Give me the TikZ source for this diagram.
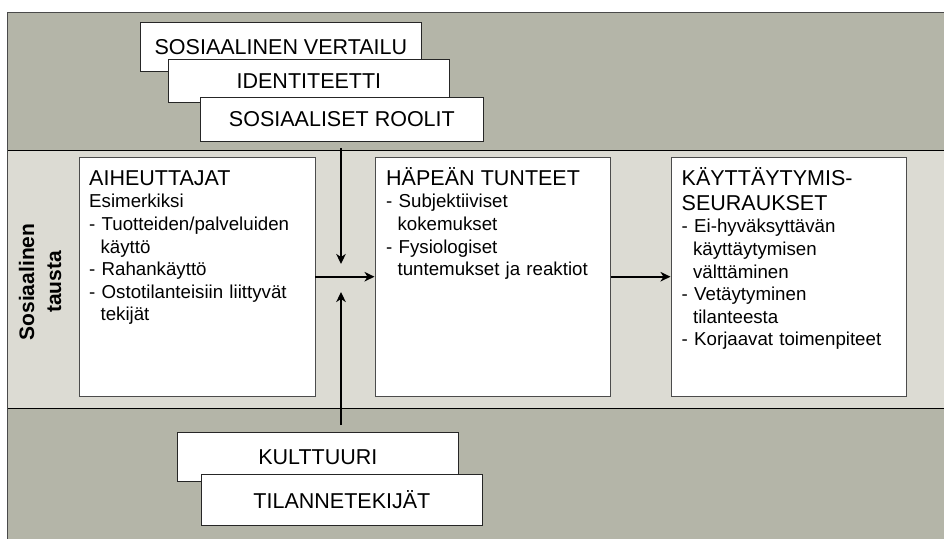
\documentclass[tikz,border=0pt]{standalone}
\usepackage{fontspec}
\setmainfont{Liberation Sans}
\usetikzlibrary{arrows.meta}

\definecolor{bandDark}{HTML}{B4B5A8}
\definecolor{bandLight}{HTML}{DCDBD3}
\definecolor{edgeGray}{HTML}{4A4A4A}

% continuation lines of a "- " item line up with the item text
\newcommand{\contline}{\hspace*{11.4pt}}
% strut that clears the umlauts of the panel headings
\newcommand{\headstrut}{\rule{0pt}{21pt}}
\newcommand{\headfont}{\fontsize{21.5}{25}\selectfont}

\tikzset{
  tagbox/.style={draw=black!85, fill=white, line width=0.8pt, inner sep=0pt,
    minimum width=281pt, anchor=north west, font=\headfont},
  panel/.style={draw=black!70, fill=white, line width=0.9pt, inner sep=0pt,
    minimum width=235.5pt, minimum height=238.5pt, anchor=north west},
  paneltext/.style={inner sep=0pt, anchor=north west, text width=222pt,
    align=left, font=\fontsize{18.7}{22.6}\selectfont},
  sidelabel/.style={rotate=90, align=center, inner sep=0pt,
    font=\bfseries\fontsize{21}{27}\selectfont},
  flow/.style={line width=2.3pt, -{Stealth[length=10pt,width=9.5pt,inset=3pt]}}
}

\begin{document}
\begin{tikzpicture}[x=1pt, y=-1pt]
\useasboundingbox (0,0) rectangle (944,538);
\clip (0,0) rectangle (944,538);

% background bands
\fill[bandDark] (7,12) rectangle (960,560);
\fill[bandLight] (7,150) rectangle (960,408);
\draw[line width=1pt] (7,150) -- (960,150);
\draw[line width=1pt] (7,408) -- (960,408);
\draw[edgeGray, line width=1pt] (960,12) -- (7,12) -- (7,560);

% social background label
\node[sidelabel] (context) at (40,282) {Sosiaalinen\\tausta};

% upper influences
\node[tagbox, minimum height=49pt] (comparison) at (140,22) {SOSIAALINEN VERTAILU};
\node[tagbox, minimum height=43pt] (identity) at (168,59) {IDENTITEETTI};
\node[tagbox, minimum width=283pt, minimum height=44pt] (roles) at (200,97) {SOSIAALISET ROOLIT};

% lower influences
\node[tagbox, minimum height=49pt] (culture) at (177,432) {KULTTUURI};
\node[tagbox, minimum height=51pt] (situation) at (201,474) {TILANNETEKIJÄT};

% main panels
\node[panel] (cause) at (79,157) {};
\node[panel] (shame) at (374.5,157) {};
\node[panel] (result) at (670.5,157) {};

\node[paneltext] (causetext) at (89,164) {%
  {\headfont\headstrut AIHEUTTAJAT\par}
  Esimerkiksi\par
  - Tuotteiden/palveluiden\newline\contline käyttö\par
  - Rahankäyttö\par
  - Ostotilanteisiin liittyvät\newline\contline tekijät\par};

\node[paneltext] (shametext) at (386,164) {%
  {\headfont\headstrut HÄPEÄN TUNTEET\par}
  - Subjektiiviset\newline\contline kokemukset\par
  - Fysiologiset\newline\contline tuntemukset ja reaktiot\par};

\node[paneltext] (resulttext) at (681.5,164) {%
  {\headfont\headstrut KÄYTTÄYTYMIS-\newline SEURAUKSET\par}
  - Ei-hyväksyttävän\newline\contline käyttäytymisen\newline\contline välttäminen\par
  - Vetäytyminen\newline\contline tilanteesta\par
  - Korjaavat toimenpiteet\par};

% connectors
\coordinate (merge) at (341,277);
\draw[flow] ([yshift=-6pt]roles.south -| merge) -- ([yshift=13pt]merge);
\draw[flow] ([yshift=7pt]culture.north -| merge) -- ([yshift=-15pt]merge);
\draw[flow] (cause.east) -- (shame.west);
\draw[flow] (shame.east) -- (result.west);
\end{tikzpicture}
\end{document}
